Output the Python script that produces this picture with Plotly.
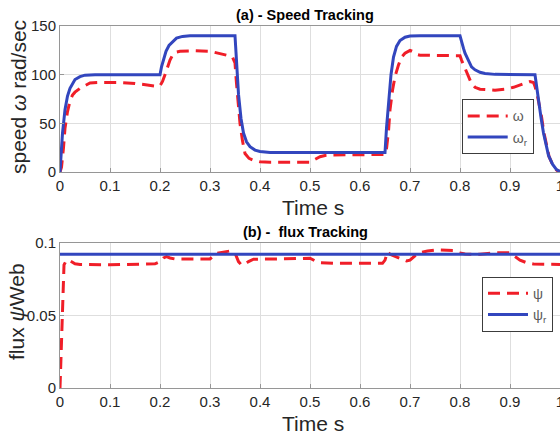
import plotly.graph_objects as go

# ---- data ----
t_wr = [0, 0.005, 0.01, 0.015, 0.02, 0.025, 0.03, 0.04, 0.05, 0.07, 0.2, 0.203, 0.207, 0.212, 0.218,
        0.225, 0.233, 0.245, 0.26, 0.35, 0.353, 0.357, 0.362, 0.367, 0.373, 0.38, 0.39, 0.40, 0.42,
        0.65, 0.653, 0.657, 0.662, 0.667, 0.673, 0.68, 0.69, 0.70, 0.72, 0.8, 0.803, 0.807, 0.81,
        0.817, 0.823, 0.83, 0.84, 0.85, 0.87, 0.95, 0.953, 0.957, 0.962, 0.967, 0.972, 0.977, 0.985,
        0.993, 1.0]
w_ref = [0, 40, 64, 78, 86, 91, 95, 98, 99.5, 100, 100, 108, 116, 124, 130,
         134, 137.5, 139.3, 140, 140, 110, 80, 55, 40, 31, 26, 22.5, 21, 20,
         20, 45, 74, 100, 118, 129, 135, 138.5, 139.7, 140, 140, 133, 127, 122,
         114, 108, 105, 102.5, 101.3, 100.3, 100, 88, 74, 56, 40, 27, 17, 8,
         2.5, 0.5]

t_w = [0, 0.003, 0.007, 0.01, 0.015, 0.02, 0.025, 0.03, 0.04, 0.05, 0.06, 0.08, 0.12, 0.15, 0.18,
       0.195, 0.2, 0.205, 0.21, 0.215, 0.22, 0.225, 0.23, 0.24, 0.27, 0.30, 0.32, 0.333, 0.345,
       0.35, 0.353, 0.357, 0.36, 0.365, 0.37, 0.378, 0.387, 0.40, 0.42, 0.5, 0.505, 0.51, 0.52,
       0.53, 0.54, 0.65, 0.653, 0.657, 0.66, 0.665, 0.67, 0.677, 0.683, 0.69, 0.70, 0.705, 0.712,
       0.72, 0.8, 0.803, 0.808, 0.813, 0.818, 0.823, 0.83, 0.84, 0.87, 0.89, 0.907, 0.925, 0.94,
       0.947, 0.95, 0.955, 0.96, 0.963, 0.968, 0.973, 0.978, 0.987, 0.994, 1.0]
w_act = [0, 5, 25, 45, 62, 73, 79, 82, 86, 89, 91.5, 92, 92, 91, 89,
         88, 88.5, 93, 100, 108, 115, 120, 123, 124, 124.5, 124, 122, 120, 118,
         112, 91, 70, 50, 32, 19, 14, 12, 10.5, 10, 10, 11, 13, 15.7,
         17, 17.5, 18, 24, 42, 64, 84, 98, 110, 118, 122, 125, 124, 121,
         120, 119.5, 115, 109, 103, 96, 91, 87, 85, 84, 85, 87, 90, 93,
         92, 88, 78, 66, 57, 40, 26, 16, 5.5, 1.5, 0.5]

t_psir = [0, 1.0]
psi_ref = [0.092, 0.092]

t_psi = [0, 0.003, 0.006, 0.008, 0.013, 0.02, 0.03, 0.04, 0.1, 0.18, 0.19, 0.2, 0.207, 0.213,
         0.22, 0.23, 0.3, 0.313, 0.33, 0.34, 0.35, 0.353, 0.357, 0.362, 0.367, 0.377, 0.387, 0.45,
         0.5, 0.51, 0.52, 0.55, 0.645, 0.65, 0.655, 0.66, 0.67, 0.68, 0.693, 0.70, 0.71, 0.72,
         0.735, 0.753, 0.787, 0.8, 0.81, 0.82, 0.84, 0.867, 0.9, 0.91, 0.92, 0.935, 0.947, 1.0]
psi_act = [0, 0.03, 0.075, 0.0847, 0.088, 0.0875, 0.0855, 0.085, 0.0848, 0.085, 0.0855, 0.087, 0.0895, 0.0904,
           0.0895, 0.0888, 0.0888, 0.0927, 0.0938, 0.0943, 0.093, 0.0905, 0.087, 0.085, 0.0847, 0.087, 0.0886, 0.0889,
           0.0893, 0.0875, 0.0862, 0.0858, 0.0858, 0.088, 0.0938, 0.092, 0.0906, 0.089, 0.0874, 0.088, 0.091, 0.0931,
           0.0943, 0.095, 0.0946, 0.093, 0.0922, 0.092, 0.092, 0.093, 0.093, 0.0905, 0.088, 0.086, 0.0853, 0.085]

x_ticks = [0, 0.1, 0.2, 0.3, 0.4, 0.5, 0.6, 0.7, 0.8, 0.9, 1]
x_ticklabels = ["0", "0.1", "0.2", "0.3", "0.4", "0.5", "0.6", "0.7", "0.8", "0.9", "1"]
y1_ticks = [0, 50, 100, 150]
y2_ticks = [0, 0.05, 0.1]
y2_ticklabels = ["0", "0.05", "0.1"]

RED = "rgb(240,30,40)"
BLUE = "rgb(50,70,190)"
DASH = "12px,7px"

fig = go.Figure()
fig.add_trace(go.Scatter(x=t_w, y=w_act, mode="lines", name="ω",
                         line=dict(color=RED, width=3, dash=DASH), xaxis="x", yaxis="y", legend="legend"))
fig.add_trace(go.Scatter(x=t_wr, y=w_ref, mode="lines", name="ω<sub>r</sub>",
                         line=dict(color=BLUE, width=3), xaxis="x", yaxis="y", legend="legend"))
fig.add_trace(go.Scatter(x=t_psi, y=psi_act, mode="lines", name="ψ",
                         line=dict(color=RED, width=3, dash=DASH), xaxis="x2", yaxis="y2", legend="legend2"))
fig.add_trace(go.Scatter(x=t_psir, y=psi_ref, mode="lines", name="ψ<sub>r</sub>",
                         line=dict(color=BLUE, width=3), xaxis="x2", yaxis="y2", legend="legend2"))

H = 435.0
def py(p):
    return 1 - p / H

axis_common = dict(showgrid=True, gridcolor="rgb(222,222,222)", gridwidth=1,
                   showline=True, linecolor="rgb(150,150,150)", linewidth=1, mirror=True,
                   ticks="inside", ticklen=4, tickcolor="rgb(150,150,150)",
                   tickfont=dict(family="Liberation Sans, Arial", size=15, color="rgb(38,38,38)"),
                   zeroline=False, automargin=False, ticklabeloverflow="allow")

fig.update_layout(
    width=560, height=435,
    margin=dict(l=60, r=0, t=0, b=0, autoexpand=False),
    paper_bgcolor="white", plot_bgcolor="white",
    font=dict(family="Liberation Sans, Arial", color="rgb(38,38,38)"),
    xaxis=dict(domain=[0, 1], range=[0, 1], tickvals=x_ticks, ticktext=x_ticklabels,
               anchor="y", **axis_common),
    yaxis=dict(domain=[py(172), py(26)], range=[0, 150], tickvals=y1_ticks, anchor="x", **axis_common),
    xaxis2=dict(domain=[0, 1], range=[0, 1], tickvals=x_ticks, ticktext=x_ticklabels,
                anchor="y2", **axis_common),
    yaxis2=dict(domain=[py(388), py(242.7)], range=[0, 0.1], tickvals=y2_ticks, ticktext=y2_ticklabels,
                anchor="x2", **axis_common),
    legend=dict(x=(461.7 - 60) / 500, y=py(99.3), xanchor="left", yanchor="top",
                bgcolor="white", bordercolor="rgb(60,60,60)", borderwidth=1,
                font=dict(size=14, color="rgb(90,90,90)"), tracegroupgap=0, itemwidth=40),
    legend2=dict(x=(482 - 60) / 500, y=py(276.7), xanchor="left", yanchor="top",
                 bgcolor="white", bordercolor="rgb(60,60,60)", borderwidth=1,
                 font=dict(size=14, color="rgb(90,90,90)"), tracegroupgap=0, itemwidth=40),
    showlegend=True,
)

ann = [
    dict(text="<b>(a) - Speed Tracking</b>", x=305, y=15, size=14.5, color="black", angle=0),
    dict(text="<b>(b) -  flux Tracking</b>", x=305, y=232, size=14.5, color="black", angle=0),
    dict(text="Time s", x=313, y=207, size=21, color="rgb(38,38,38)", angle=0),
    dict(text="Time s", x=313, y=423, size=21, color="rgb(38,38,38)", angle=0),
    dict(text="speed <i>ω</i> rad/sec", x=18, y=97, size=21, color="rgb(38,38,38)", angle=-90),
    dict(text="flux <i>ψ</i>Web", x=16, y=312, size=21, color="rgb(38,38,38)", angle=-90),
]
for a in ann:
    fig.add_annotation(text=a["text"], xref="paper", yref="paper",
                       x=(a["x"] - 60) / 500, y=py(a["y"]), xanchor="center", yanchor="middle",
                       showarrow=False, textangle=a["angle"],
                       font=dict(family="Liberation Sans, Arial", size=a["size"], color=a["color"]))

fig.write_html("out.html")
